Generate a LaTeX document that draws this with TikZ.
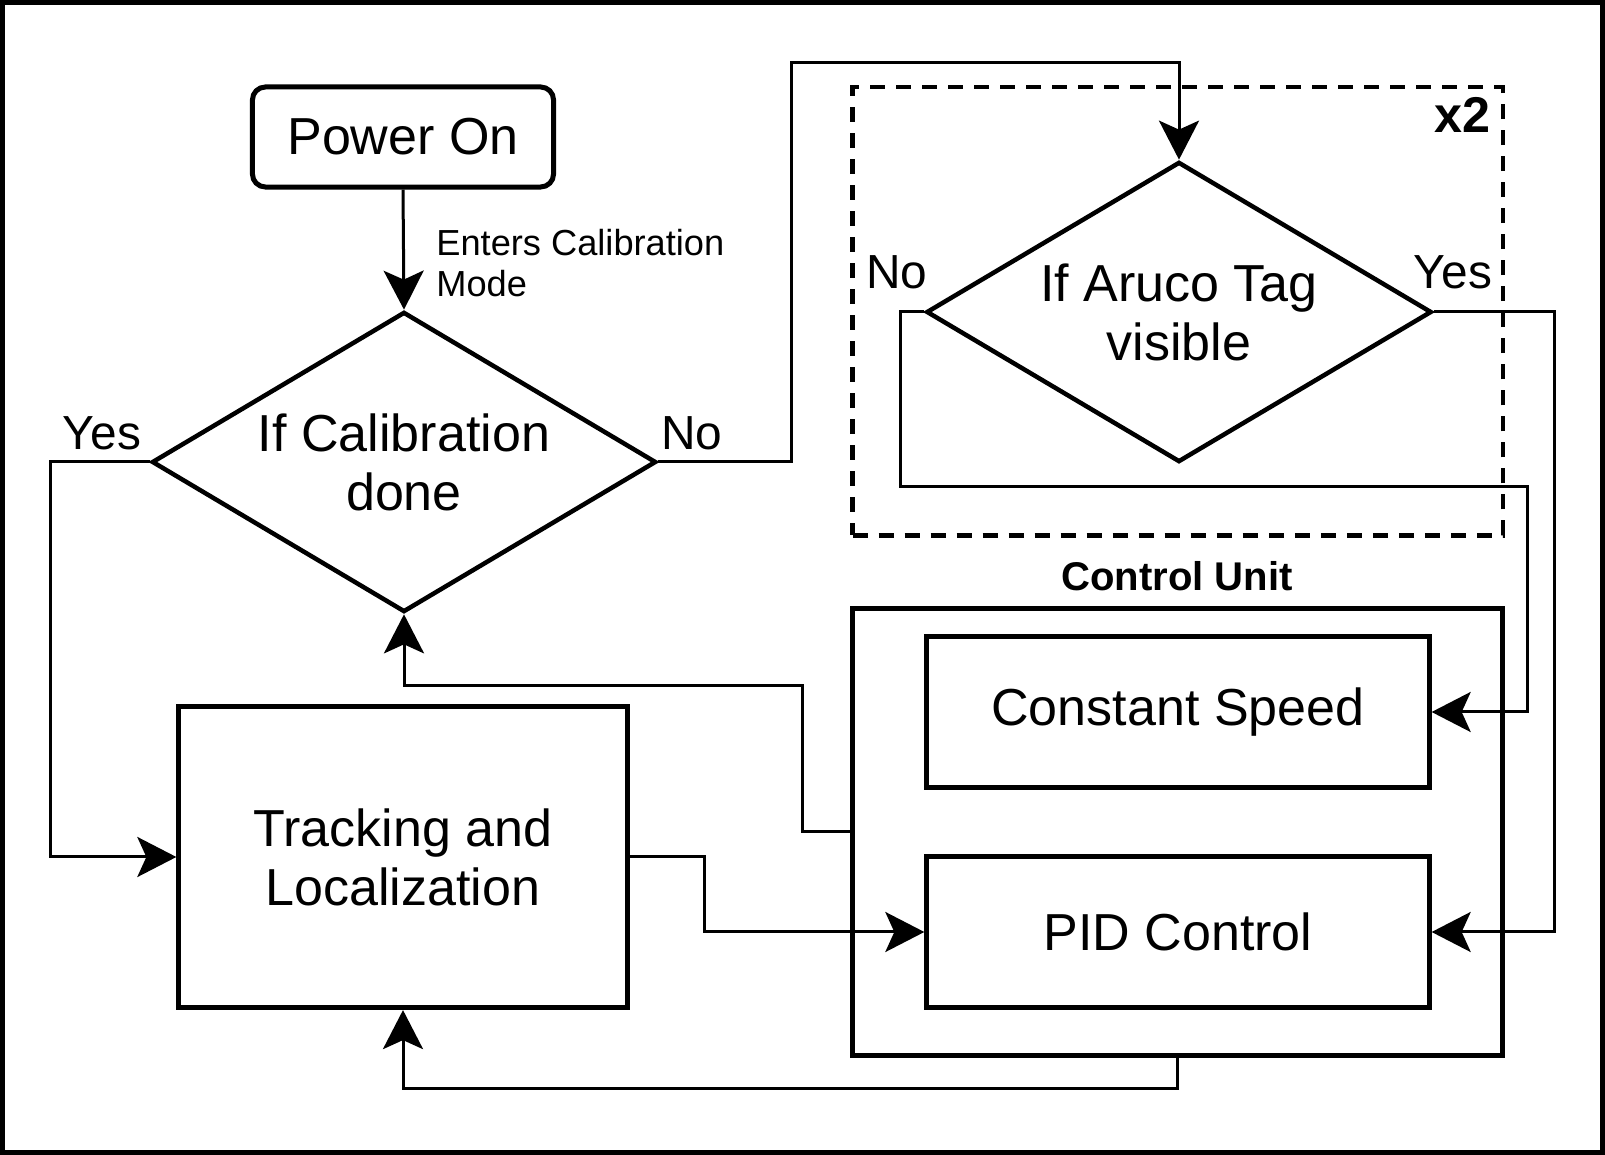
\documentclass[tikz,border=0pt]{standalone}
\usepackage{fontspec}
\setmainfont{Liberation Sans}
\usetikzlibrary{arrows.meta}
\usetikzlibrary{shapes.geometric}

\tikzset{
	box/.style={draw, line width=0.05cm, inner sep=0pt, align=center,
		font=\fontsize{14.8}{16.8}\selectfont},
	decision/.style={draw, diamond, line width=0.045cm, inner sep=0pt,
		aspect=1.68, align=center, font=\fontsize{14.8}{16.8}\selectfont},
	answer/.style={font=\fontsize{13.6}{15}\selectfont},
	link/.style={line width=0.03cm,
		-{Stealth[length=0.39cm, width=0.40cm, inset=0.09cm]}},
}

\begin{document}
\begin{tikzpicture}[x=0.01cm, y=-0.01cm]
			\useasboundingbox (0,0) rectangle (1605,1155);
			\draw[line width=0.05cm] (2.5,2.5) rectangle (1602.5,1152.5);
		%% \node[options] (label) at (coord) {content};
			\node[box, rounded corners=0.13cm, minimum width=3.01cm, minimum height=1.0cm]
				(pwr) at (403,137) {Power On};
			\node[decision, minimum width=5.04cm, minimum height=3.0cm]
				(calib) at (404,462) {If Calibration\\done};
			\node[decision, minimum width=5.05cm, minimum height=3.0cm]
				(aruco) at (1179,312) {If Aruco Tag\\visible};
			\node[draw, dashed, line width=0.045cm, dash pattern=on 0.15cm off 0.11cm,
				minimum width=6.5cm, minimum height=4.48cm]
				(loop) at (1177.7,311.2) {};
			\node[box, minimum width=4.48cm, minimum height=3.01cm]
				(track) at (403,857) {Tracking and\\Localization};
			\node[draw, line width=0.05cm, minimum width=6.5cm, minimum height=4.47cm]
				(cu) at (1177.7,831.7) {};
			\node[box, minimum width=5.02cm, minimum height=1.5cm]
				(speed) at (1178,712) {Constant Speed};
			\node[box, minimum width=5.02cm, minimum height=1.5cm]
				(pid) at (1178,932) {PID Control};
		%% labels
			\node[anchor=west, align=left, font=\fontsize{10.3}{11.7}\selectfont]
				(enter) at (424,263) {Enters Calibration\\Mode};
			\node[answer] (calibyes) at (102,433) {Yes};
			\node[answer] (calibno) at (692,433) {No};
			\node[answer] (arucono) at (897,272) {No};
			\node[answer] (arucoyes) at (1453,272) {Yes};
			\node[font=\fontsize{14.3}{16}\selectfont] (times) at (1462,115) {\bf x2};
			\node[font=\fontsize{11.4}{13}\selectfont] (culabel) at (1177,576) {\bf Control Unit};
		%% connectors
			\draw[link] (pwr.south) -- (calib.north);
			\draw[link] (calib.west) -- ++(-99.5,0) |- (track.west);
			\draw[link] (calib.east) -| (791,63) -| (aruco.north);
			\draw[link] (aruco.west) -- ++(-23.5,0) |- (1527,487) |- (speed.east);
			\draw[link] (aruco.east) -- ++(121,0) |- (pid.east);
			\draw[link] (cu.west) -| (802.5,686) -| (calib.south);
			\draw[link] (track.east) -- ++(75,0) |- (pid.west);
			\draw[link] (cu.south) -- ++(0,31) -| (track.south);
		\end{tikzpicture}
\end{document}
